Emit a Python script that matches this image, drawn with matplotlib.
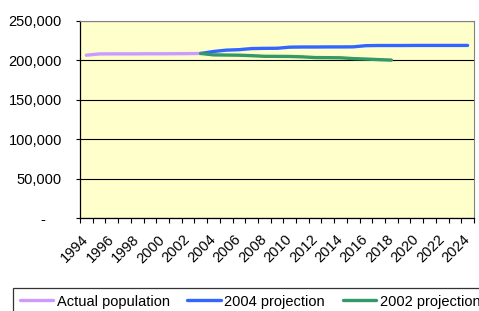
import matplotlib.pyplot as plt
import numpy as np
from matplotlib.ticker import FixedLocator, FuncFormatter
from matplotlib.transforms import ScaledTranslation

plt.rcParams['font.family'] = ['Liberation Sans', 'DejaVu Sans']

# Years on the category axis
years = np.arange(1994, 2025)

# Actual population, 1994-2003
actual_years = np.arange(1994, 2004)
actual = [206600, 208200, 208300, 208300, 208300, 208400, 208400, 208500, 208600, 208800]

# 2004 projection, 2003-2024
proj2004_years = np.arange(2003, 2025)
proj2004 = [208800, 211300, 213000, 213600, 215000, 215300, 215400, 216800, 217000, 217000,
            217100, 217100, 217200, 218700, 218900, 218900, 218900, 219000, 219000, 219000,
            219000, 219000]

# 2002 projection, 2003-2018
proj2002_years = np.arange(2003, 2019)
proj2002 = [208800, 207000, 206800, 206600, 206000, 205200, 205100, 205000, 204500, 203600,
            203500, 203300, 202300, 201700, 201000, 200400]

yticks = [0, 50000, 100000, 150000, 200000, 250000]
xlabels = years[::2]

fig = plt.figure(figsize=(4.79, 3.11), dpi=100)
ax = fig.add_axes([80 / 479, 1 - 218 / 311, 394 / 479, 197 / 311])
ax.set_facecolor('#FFFFCC')

ax.plot(actual_years, actual, color='#CC99FF', lw=2.4, solid_capstyle='round', label='Actual population', zorder=3)
ax.plot(proj2004_years, proj2004, color='#3366FF', lw=2.4, solid_capstyle='round', label='2004 projection', zorder=3)
ax.plot(proj2002_years, proj2002, color='#339966', lw=2.4, solid_capstyle='round', label='2002 projection', zorder=3)

ax.set_xlim(years[0] - 0.5, years[-1] + 0.5)
ax.set_ylim(0, 250000)

# Y axis
ax.set_yticks(yticks)
ax.yaxis.set_major_formatter(FuncFormatter(lambda v, p: '-    ' if v == 0 else f'{int(v):,}'))
ax.tick_params(axis='y', direction='out', length=3, width=0.8, pad=10, labelsize=10.5)
ax.grid(axis='y', color='black', lw=0.8, zorder=1)

# X axis: tick marks between categories, labels every 2 years
ax.xaxis.set_major_locator(FixedLocator(xlabels))
ax.set_xticklabels([str(y) for y in xlabels], rotation=45, ha='right', va='center',
                   rotation_mode='anchor')
shift = ScaledTranslation(-5 / 100, 0, fig.dpi_scale_trans)
for lab in ax.get_xticklabels():
    lab.set_transform(lab.get_transform() + shift)
ax.xaxis.set_minor_locator(FixedLocator(np.append(years - 0.5, years[-1] + 0.5)))
ax.tick_params(axis='x', which='major', length=0, pad=14, labelsize=10.5)
ax.tick_params(axis='x', which='minor', direction='out', length=3.5, width=0.8)

for s in ['top', 'right']:
    ax.spines[s].set_color('#808080')
for s in ['left', 'bottom']:
    ax.spines[s].set_color('black')
    ax.spines[s].set_linewidth(0.9)

leg = fig.legend(loc='upper left', bbox_to_anchor=(13 / 479, 1 - 288 / 311), ncol=3,
                 frameon=True, fancybox=False, fontsize=10.5, handlelength=2.3,
                 handletextpad=0.25, columnspacing=1.2, borderpad=0.45, borderaxespad=0)
leg.get_frame().set_edgecolor('black')
leg.get_frame().set_linewidth(0.9)

plt.savefig('out.png', dpi=100)
